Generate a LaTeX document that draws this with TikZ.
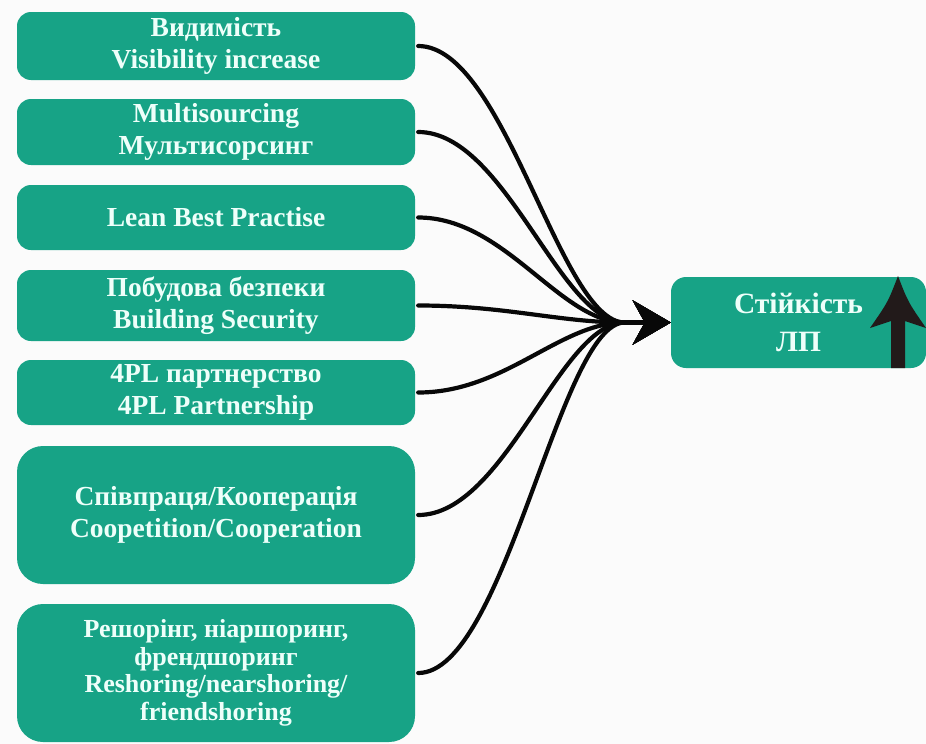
\documentclass[tikz,border=0pt]{standalone}
\usepackage{fontspec}
\setmainfont{Liberation Serif}
\usetikzlibrary{arrows.meta,calc}
\definecolor{teal1}{RGB}{23,163,134}
\definecolor{bgc}{RGB}{251,251,251}
\definecolor{txtc}{RGB}{238,255,250}
\definecolor{inkc}{RGB}{8,8,8}
\definecolor{arrc}{RGB}{34,26,26}
\begin{document}
\begin{tikzpicture}[x=1pt,y=-1pt,
  box/.style={fill=teal1, rounded corners=14pt, minimum width=398pt, align=center,
    text=txtc, font=\fontsize{27.5}{32.5}\selectfont\bfseries, inner sep=0pt},
  bigbox/.style={box, minimum height=138pt, rounded corners=26pt},
  link/.style={line width=4.2pt, draw=inkc, line cap=round, shorten <=3pt,
    -{Stealth[length=38pt,width=44pt,inset=12pt]}}
]
\fill[bgc] (0,0) rectangle (926,744);
\useasboundingbox (0,0) rectangle (926,744);

\node[box, minimum height=68pt] (b1) at (216,46) {Видимість\\Visibility increase};
\node[box, minimum height=66pt] (b2) at (216,132) {Multisourcing\\Мультисорсинг};
\node[box, minimum height=65pt] (b3) at (216,217.5) {Lean Best Practise};
\node[box, minimum height=71pt] (b4) at (216,305.5) {Побудова безпеки\\Building Security};
\node[box, minimum height=65pt] (b5) at (216,392.5) {4PL партнерство\\4PL Partnership};
\node[bigbox] (b6) at (216,515) {Співпраця/Кооперація\\Coopetition/Cooperation};
\node[bigbox, font=\fontsize{26}{27.5}\selectfont\bfseries] (b7) at (216,673) {Решорінг, ніаршоринг,\\френдшоринг\\Reshoring/nearshoring/\\friendshoring};

\node[box, minimum width=255pt, minimum height=91pt, rounded corners=15pt,
  font=\fontsize{29.5}{38}\selectfont\bfseries] (R) at (798.5,322.5) {Стійкість\\ЛП};

\coordinate (m) at ($(R.west)+(-46,0)$);

\foreach \i in {1,...,7}{
  \draw[link] (b\i.east) .. controls ($(b\i.east)+(90,0)$) and ($(m)+(-65,0)$) .. (m) -- (R.west);
}

\fill[arrc] (898,276) .. controls (888,302) .. (870,328) -- (891,321) -- (891,368)
  -- (905,368) -- (905,321) -- (926,328) .. controls (908,302) .. (898,276) -- cycle;
\end{tikzpicture}
\end{document}
